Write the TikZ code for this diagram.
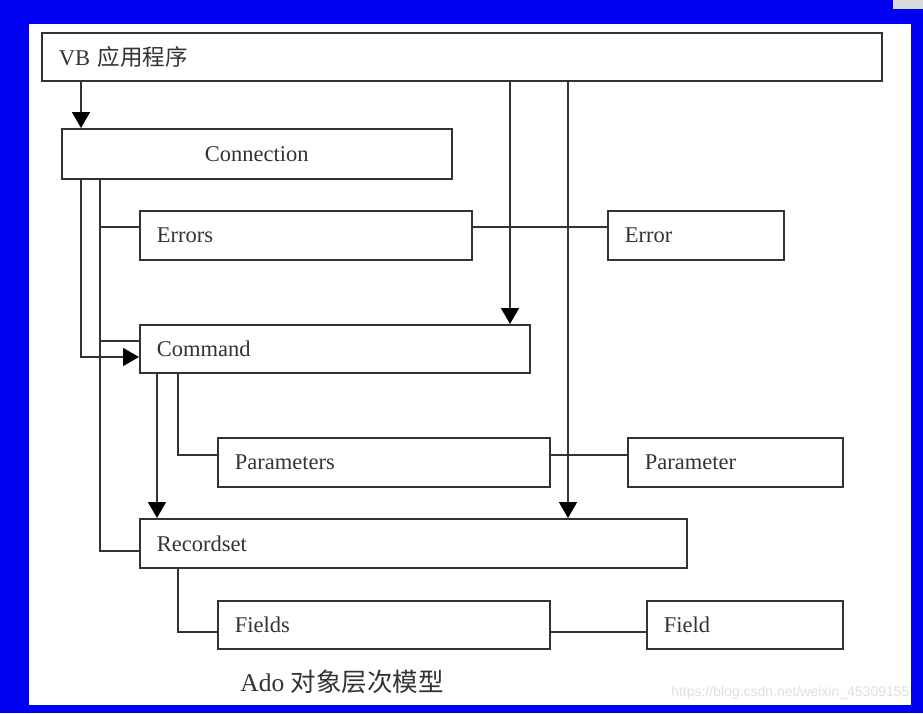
\documentclass[tikz,border=0pt]{standalone}
\usepackage{fontspec}
\setmainfont{Liberation Serif}
\newfontfamily\cjk{Noto Sans CJK SC}
\newfontfamily\wmfont{Liberation Sans}
\usetikzlibrary{arrows.meta}
\definecolor{bgblue}{HTML}{0000F2}
\definecolor{ink}{HTML}{333333}
\begin{document}
\begin{tikzpicture}[x=1pt,y=-1pt,
  box/.style={draw=ink,line width=1.6pt,anchor=north west,inner xsep=17pt,inner ysep=0pt,align=left,font=\fontsize{22.5}{26}\selectfont,text=ink},
  ln/.style={draw=ink,line width=1.6pt},
  arr/.style={ln,-{Triangle[width=18pt,length=16pt,color=black]}}]
\useasboundingbox (0,0) rectangle (923,713);
\fill[bgblue] (0,0) rectangle (923,713);
\fill[white] (29,24) rectangle (911,705);
\fill[gray!30] (893,0) rectangle (923,9);
% boxes
\node[box,minimum width=840pt,minimum height=48pt,text width=806pt] (vb) at (41,32) {VB {\cjk 应用程序}};
\node[box,minimum width=390pt,minimum height=50pt,text width=356pt,align=center] (conn) at (61,128) {Connection};
\node[box,minimum width=332pt,minimum height=49pt,text width=298pt] (errs) at (139,210) {Errors};
\node[box,minimum width=176pt,minimum height=49pt,text width=142pt] (err) at (607,210) {Error};
\node[box,minimum width=390pt,minimum height=48pt,text width=356pt] (cmd) at (139,324) {Command};
\node[box,minimum width=332pt,minimum height=49pt,text width=298pt] (params) at (217,437) {Parameters};
\node[box,minimum width=215pt,minimum height=49pt,text width=181pt] (param) at (627,437) {Parameter};
\node[box,minimum width=547pt,minimum height=49pt,text width=513pt] (rs) at (139,518) {Recordset};
\node[box,minimum width=332pt,minimum height=48pt,text width=298pt] (fields) at (217,600) {Fields};
\node[box,minimum width=196pt,minimum height=48pt,text width=162pt] (field) at (646,600) {Field};
\node[text=ink,font=\fontsize{25.5}{30}\selectfont] (cap) at (342,682) {Ado {\cjk 对象层次模型}};
\node[text=gray!25,font=\wmfont\fontsize{14}{16}\selectfont,anchor=east] (wm) at (913,693) {https://blog.csdn.net/weixin\_45309155};
% helper coordinates
\coordinate (xA) at (81,0);
\coordinate (xB) at (100,0);
\coordinate (xC) at (157,0);
\coordinate (xD) at (178,0);
\coordinate (xE) at (510,0);
\coordinate (xF) at (568,0);
\coordinate (yerr) at (0,227);
\coordinate (yc1) at (0,341);
\coordinate (yc2) at (0,357);
\coordinate (yp) at (0,455);
\coordinate (yr) at (0,551);
\coordinate (yf) at (0,632);
% connectors
\draw[arr] (vb.south -| xA) -- (conn.north -| xA);
\draw[arr] (vb.south -| xE) -- (cmd.north -| xE);
\draw[arr] (vb.south -| xF) -- (rs.north -| xF);
\draw[arr] (conn.south -| xA) |- (cmd.west |- yc2);
\draw[ln] (conn.south -| xB) |- (rs.west |- yr);
\draw[ln] (xB |- yerr) -- (errs.west |- yerr);
\draw[ln] (xB |- yc1) -- (cmd.west |- yc1);
\draw[ln] (errs.east |- yerr) -- (err.west |- yerr);
\draw[arr] (cmd.south -| xC) -- (rs.north -| xC);
\draw[ln] (cmd.south -| xD) |- (params.west |- yp);
\draw[ln] (params.east |- yp) -- (param.west |- yp);
\draw[ln] (rs.south -| xD) |- (fields.west |- yf);
\draw[ln] (fields.east |- yf) -- (field.west |- yf);
\end{tikzpicture}
\end{document}
